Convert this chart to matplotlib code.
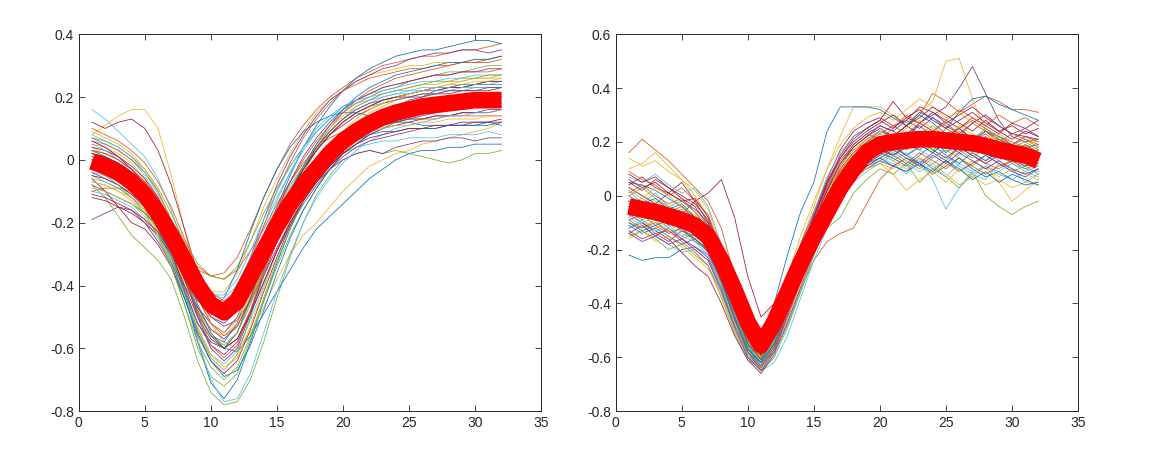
import numpy as np
import matplotlib
matplotlib.use("Agg")
import matplotlib.pyplot as plt

# sample index 1..32 for every waveform
samples = list(range(1, 33))

# ---- left panel: individual waveforms ----
left_waves = [
    [0.02, 0.01, -0.01, -0.04, -0.09, -0.17, -0.28, -0.42, -0.58, -0.71, -0.76, -0.70, -0.58, -0.45, -0.33, -0.22, -0.13, -0.06, 0.00, 0.05, 0.09, 0.12, 0.15, 0.17, 0.19, 0.20, 0.22, 0.23, 0.23, 0.24, 0.25, 0.25],
    [0.06, 0.04, 0.01, -0.03, -0.08, -0.15, -0.23, -0.30, -0.35, -0.37, -0.36, -0.31, -0.22, -0.12, -0.03, 0.05, 0.11, 0.16, 0.20, 0.23, 0.26, 0.28, 0.30, 0.31, 0.32, 0.33, 0.33, 0.34, 0.35, 0.35, 0.36, 0.37],
    [0.08, 0.11, 0.14, 0.16, 0.16, 0.10, -0.05, -0.22, -0.40, -0.52, -0.58, -0.60, -0.55, -0.47, -0.38, -0.30, -0.24, -0.20, -0.15, -0.10, -0.06, -0.02, 0.00, 0.02, 0.03, 0.05, 0.06, 0.07, 0.08, 0.09, 0.10, 0.12],
    [-0.19, -0.17, -0.15, -0.16, -0.20, -0.26, -0.33, -0.40, -0.47, -0.52, -0.55, -0.50, -0.40, -0.30, -0.20, -0.12, -0.05, 0.00, 0.04, 0.07, 0.09, 0.10, 0.11, 0.12, 0.13, 0.13, 0.14, 0.14, 0.15, 0.15, 0.16, 0.16],
    [-0.08, -0.12, -0.18, -0.24, -0.28, -0.32, -0.38, -0.50, -0.64, -0.74, -0.78, -0.77, -0.70, -0.58, -0.44, -0.31, -0.20, -0.11, -0.05, 0.00, 0.02, 0.03, 0.02, 0.03, 0.02, 0.01, 0.00, -0.01, 0.00, 0.02, 0.02, 0.03],
    [0.16, 0.13, 0.09, 0.05, 0.01, -0.06, -0.16, -0.28, -0.38, -0.44, -0.46, -0.43, -0.35, -0.26, -0.17, -0.09, -0.02, 0.04, 0.09, 0.13, 0.16, 0.18, 0.20, 0.21, 0.22, 0.22, 0.23, 0.23, 0.24, 0.24, 0.24, 0.25],
    [0.12, 0.10, 0.12, 0.13, 0.10, 0.03, -0.08, -0.22, -0.36, -0.46, -0.50, -0.47, -0.38, -0.28, -0.18, -0.10, -0.03, 0.03, 0.08, 0.12, 0.15, 0.17, 0.19, 0.20, 0.21, 0.22, 0.22, 0.23, 0.23, 0.24, 0.24, 0.24],
    [-0.02, -0.04, -0.07, -0.10, -0.14, -0.19, -0.26, -0.35, -0.46, -0.55, -0.60, -0.61, -0.56, -0.49, -0.42, -0.35, -0.28, -0.22, -0.18, -0.14, -0.10, -0.06, -0.03, 0.00, 0.02, 0.03, 0.03, 0.04, 0.04, 0.05, 0.05, 0.05],
    [0.00, -0.02, -0.04, -0.07, -0.11, -0.17, -0.24, -0.33, -0.41, -0.47, -0.50, -0.46, -0.37, -0.28, -0.19, -0.12, -0.06, -0.01, 0.04, 0.08, 0.11, 0.13, 0.15, 0.16, 0.17, 0.18, 0.18, 0.19, 0.19, 0.20, 0.20, 0.21],
    [0.04, 0.02, 0.00, -0.03, -0.07, -0.13, -0.21, -0.30, -0.38, -0.42, -0.42, -0.36, -0.26, -0.15, -0.06, 0.02, 0.09, 0.15, 0.19, 0.22, 0.25, 0.27, 0.28, 0.29, 0.30, 0.30, 0.31, 0.31, 0.31, 0.32, 0.32, 0.33],
    [0.01, 0.00, -0.02, -0.05, -0.09, -0.15, -0.24, -0.34, -0.43, -0.48, -0.48, -0.42, -0.31, -0.19, -0.08, 0.01, 0.08, 0.14, 0.19, 0.22, 0.25, 0.27, 0.29, 0.30, 0.32, 0.33, 0.34, 0.34, 0.35, 0.35, 0.34, 0.35],
    [-0.05, -0.07, -0.09, -0.12, -0.16, -0.23, -0.33, -0.46, -0.60, -0.69, -0.72, -0.68, -0.57, -0.45, -0.34, -0.24, -0.16, -0.09, -0.03, 0.02, 0.06, 0.09, 0.11, 0.13, 0.14, 0.15, 0.16, 0.16, 0.17, 0.17, 0.18, 0.18],
    [-0.10, -0.11, -0.13, -0.15, -0.19, -0.25, -0.33, -0.43, -0.54, -0.62, -0.65, -0.61, -0.51, -0.40, -0.29, -0.20, -0.12, -0.06, -0.01, 0.02, 0.04, 0.05, 0.06, 0.06, 0.07, 0.07, 0.07, 0.08, 0.08, 0.08, 0.09, 0.08],
    [-0.06, -0.10, -0.15, -0.20, -0.22, -0.27, -0.34, -0.44, -0.55, -0.64, -0.68, -0.64, -0.54, -0.42, -0.31, -0.21, -0.13, -0.07, -0.02, 0.02, 0.05, 0.08, 0.10, 0.11, 0.12, 0.13, 0.14, 0.14, 0.15, 0.15, 0.15, 0.16],
    [0.03, 0.01, -0.02, -0.05, -0.10, -0.17, -0.27, -0.38, -0.49, -0.56, -0.58, -0.52, -0.40, -0.27, -0.15, -0.05, 0.04, 0.11, 0.17, 0.22, 0.26, 0.29, 0.31, 0.33, 0.34, 0.35, 0.35, 0.36, 0.37, 0.38, 0.38, 0.37],
    [-0.10, -0.09, -0.09, -0.10, -0.13, -0.17, -0.23, -0.29, -0.34, -0.37, -0.38, -0.35, -0.29, -0.22, -0.14, -0.07, -0.01, 0.04, 0.07, 0.09, 0.10, 0.11, 0.12, 0.12, 0.13, 0.13, 0.13, 0.14, 0.14, 0.14, 0.14, 0.14],
    [0.05, 0.04, 0.02, -0.01, -0.06, -0.14, -0.26, -0.40, -0.53, -0.62, -0.66, -0.63, -0.53, -0.41, -0.29, -0.19, -0.10, -0.03, 0.03, 0.08, 0.12, 0.15, 0.17, 0.19, 0.21, 0.22, 0.23, 0.24, 0.25, 0.26, 0.26, 0.27],
    [-0.03, -0.04, -0.06, -0.09, -0.13, -0.18, -0.25, -0.34, -0.43, -0.50, -0.53, -0.51, -0.45, -0.37, -0.28, -0.20, -0.13, -0.07, -0.03, 0.00, 0.02, 0.03, 0.02, 0.04, 0.05, 0.06, 0.06, 0.07, 0.07, 0.06, 0.07, 0.07],
    [0.07, 0.06, 0.04, 0.01, -0.03, -0.09, -0.17, -0.26, -0.33, -0.37, -0.38, -0.34, -0.26, -0.17, -0.09, -0.02, 0.04, 0.09, 0.13, 0.17, 0.19, 0.21, 0.23, 0.24, 0.25, 0.26, 0.27, 0.28, 0.28, 0.29, 0.30, 0.30],
    [-0.04, -0.05, -0.07, -0.09, -0.13, -0.19, -0.29, -0.42, -0.57, -0.70, -0.77, -0.76, -0.68, -0.55, -0.42, -0.30, -0.20, -0.12, -0.06, -0.01, 0.03, 0.06, 0.08, 0.10, 0.11, 0.12, 0.13, 0.14, 0.14, 0.15, 0.15, 0.16],
    [-0.12, -0.13, -0.15, -0.17, -0.20, -0.24, -0.30, -0.37, -0.44, -0.49, -0.51, -0.47, -0.38, -0.28, -0.18, -0.10, -0.03, 0.03, 0.08, 0.11, 0.14, 0.16, 0.18, 0.19, 0.20, 0.20, 0.21, 0.21, 0.22, 0.22, 0.22, 0.23],
    [0.00, -0.01, -0.03, -0.06, -0.11, -0.18, -0.28, -0.38, -0.45, -0.47, -0.44, -0.35, -0.23, -0.12, -0.03, 0.04, 0.09, 0.12, 0.14, 0.15, 0.15, 0.14, 0.13, 0.12, 0.12, 0.11, 0.11, 0.11, 0.11, 0.11, 0.12, 0.11],
    [0.10, 0.08, 0.06, 0.03, -0.01, -0.07, -0.15, -0.25, -0.35, -0.42, -0.45, -0.41, -0.33, -0.24, -0.15, -0.07, 0.00, 0.06, 0.11, 0.15, 0.18, 0.20, 0.22, 0.23, 0.25, 0.26, 0.27, 0.27, 0.28, 0.28, 0.28, 0.29],
    [-0.07, -0.08, -0.10, -0.13, -0.17, -0.22, -0.30, -0.39, -0.48, -0.54, -0.56, -0.52, -0.43, -0.33, -0.23, -0.15, -0.08, -0.02, 0.03, 0.07, 0.10, 0.12, 0.14, 0.15, 0.16, 0.17, 0.17, 0.18, 0.18, 0.18, 0.18, 0.18],
    [0.02, 0.00, -0.03, -0.07, -0.12, -0.19, -0.29, -0.41, -0.52, -0.59, -0.62, -0.58, -0.49, -0.39, -0.29, -0.21, -0.14, -0.08, -0.03, 0.01, 0.04, 0.06, 0.07, 0.08, 0.09, 0.10, 0.10, 0.11, 0.11, 0.12, 0.12, 0.12],
    [-0.02, -0.03, -0.05, -0.08, -0.12, -0.18, -0.26, -0.35, -0.43, -0.48, -0.49, -0.44, -0.35, -0.25, -0.16, -0.08, -0.02, 0.03, 0.08, 0.12, 0.15, 0.17, 0.18, 0.19, 0.20, 0.21, 0.21, 0.22, 0.22, 0.23, 0.23, 0.23],
    [0.06, 0.05, 0.03, 0.00, -0.05, -0.12, -0.21, -0.31, -0.39, -0.43, -0.44, -0.40, -0.31, -0.21, -0.12, -0.04, 0.03, 0.09, 0.13, 0.17, 0.19, 0.21, 0.22, 0.23, 0.24, 0.25, 0.25, 0.26, 0.26, 0.27, 0.27, 0.27],
    [-0.05, -0.06, -0.08, -0.11, -0.15, -0.21, -0.30, -0.40, -0.50, -0.57, -0.60, -0.57, -0.48, -0.37, -0.26, -0.17, -0.09, -0.03, 0.02, 0.06, 0.09, 0.11, 0.13, 0.14, 0.15, 0.16, 0.17, 0.17, 0.18, 0.19, 0.19, 0.20],
    [-0.08, -0.10, -0.12, -0.14, -0.17, -0.21, -0.27, -0.34, -0.41, -0.45, -0.46, -0.43, -0.36, -0.28, -0.20, -0.13, -0.07, -0.02, 0.02, 0.05, 0.06, 0.08, 0.09, 0.09, 0.10, 0.10, 0.10, 0.11, 0.11, 0.11, 0.11, 0.12],
    [0.03, 0.02, 0.00, -0.03, -0.07, -0.14, -0.24, -0.36, -0.49, -0.59, -0.63, -0.59, -0.48, -0.35, -0.22, -0.12, -0.03, 0.04, 0.10, 0.15, 0.19, 0.22, 0.24, 0.26, 0.27, 0.28, 0.29, 0.30, 0.31, 0.31, 0.32, 0.33],
    [0.09, 0.07, 0.05, 0.02, -0.03, -0.10, -0.20, -0.32, -0.44, -0.52, -0.55, -0.51, -0.41, -0.30, -0.19, -0.10, -0.02, 0.05, 0.10, 0.14, 0.17, 0.19, 0.21, 0.22, 0.23, 0.24, 0.24, 0.25, 0.25, 0.26, 0.26, 0.26],
    [-0.04, -0.06, -0.08, -0.11, -0.14, -0.19, -0.27, -0.37, -0.47, -0.54, -0.57, -0.53, -0.44, -0.34, -0.24, -0.16, -0.09, -0.04, 0.01, 0.05, 0.08, 0.10, 0.12, 0.13, 0.14, 0.15, 0.15, 0.16, 0.16, 0.17, 0.17, 0.17],
    [0.01, -0.01, -0.04, -0.08, -0.13, -0.20, -0.30, -0.42, -0.54, -0.63, -0.67, -0.62, -0.50, -0.37, -0.24, -0.13, -0.04, 0.03, 0.09, 0.13, 0.17, 0.19, 0.21, 0.22, 0.23, 0.24, 0.25, 0.25, 0.26, 0.26, 0.27, 0.27],
    [-0.06, -0.07, -0.09, -0.12, -0.15, -0.20, -0.27, -0.35, -0.42, -0.46, -0.47, -0.44, -0.37, -0.28, -0.19, -0.11, -0.05, 0.00, 0.05, 0.09, 0.12, 0.14, 0.16, 0.17, 0.18, 0.19, 0.19, 0.20, 0.20, 0.21, 0.21, 0.21],
    [0.04, 0.03, 0.01, -0.02, -0.06, -0.12, -0.20, -0.30, -0.40, -0.47, -0.50, -0.47, -0.39, -0.29, -0.19, -0.10, -0.03, 0.03, 0.08, 0.12, 0.15, 0.17, 0.19, 0.20, 0.21, 0.22, 0.23, 0.23, 0.24, 0.24, 0.25, 0.25],
    [-0.01, -0.03, -0.06, -0.10, -0.15, -0.22, -0.32, -0.44, -0.56, -0.64, -0.69, -0.67, -0.59, -0.48, -0.36, -0.25, -0.16, -0.09, -0.03, 0.02, 0.05, 0.08, 0.10, 0.12, 0.13, 0.14, 0.15, 0.16, 0.16, 0.17, 0.17, 0.17],
    [0.07, 0.05, 0.03, 0.00, -0.04, -0.10, -0.19, -0.30, -0.40, -0.46, -0.47, -0.42, -0.32, -0.21, -0.10, -0.01, 0.07, 0.13, 0.18, 0.22, 0.24, 0.26, 0.27, 0.28, 0.29, 0.29, 0.30, 0.30, 0.31, 0.31, 0.31, 0.32],
    [-0.09, -0.10, -0.12, -0.14, -0.18, -0.24, -0.32, -0.42, -0.52, -0.58, -0.60, -0.55, -0.45, -0.33, -0.22, -0.13, -0.06, -0.01, 0.03, 0.06, 0.08, 0.09, 0.10, 0.11, 0.11, 0.12, 0.12, 0.13, 0.13, 0.13, 0.14, 0.14],
    [0.02, 0.01, -0.01, -0.04, -0.09, -0.16, -0.25, -0.35, -0.44, -0.50, -0.52, -0.48, -0.38, -0.27, -0.16, -0.07, 0.01, 0.07, 0.12, 0.16, 0.19, 0.21, 0.23, 0.24, 0.25, 0.26, 0.27, 0.27, 0.28, 0.28, 0.29, 0.29],
    [-0.03, -0.05, -0.08, -0.12, -0.17, -0.24, -0.34, -0.46, -0.58, -0.66, -0.70, -0.66, -0.56, -0.44, -0.32, -0.22, -0.13, -0.06, 0.00, 0.04, 0.08, 0.10, 0.12, 0.14, 0.15, 0.16, 0.17, 0.18, 0.18, 0.19, 0.19, 0.20],
    [0.05, 0.03, 0.00, -0.04, -0.09, -0.15, -0.23, -0.32, -0.39, -0.43, -0.43, -0.38, -0.29, -0.19, -0.10, -0.02, 0.04, 0.09, 0.13, 0.16, 0.18, 0.19, 0.20, 0.21, 0.21, 0.22, 0.22, 0.22, 0.23, 0.23, 0.23, 0.23],
    [-0.11, -0.12, -0.14, -0.16, -0.19, -0.23, -0.29, -0.38, -0.48, -0.56, -0.60, -0.57, -0.49, -0.39, -0.29, -0.20, -0.13, -0.07, -0.02, 0.02, 0.05, 0.07, 0.08, 0.09, 0.10, 0.10, 0.11, 0.11, 0.12, 0.12, 0.12, 0.13],
    [0.00, -0.02, -0.05, -0.09, -0.14, -0.21, -0.31, -0.42, -0.52, -0.58, -0.60, -0.55, -0.44, -0.32, -0.20, -0.10, -0.02, 0.05, 0.11, 0.16, 0.20, 0.23, 0.25, 0.27, 0.28, 0.29, 0.30, 0.31, 0.31, 0.32, 0.32, 0.33],
    [0.03, 0.02, 0.00, -0.03, -0.07, -0.13, -0.22, -0.33, -0.44, -0.52, -0.56, -0.53, -0.45, -0.35, -0.25, -0.16, -0.08, -0.02, 0.03, 0.07, 0.10, 0.12, 0.14, 0.15, 0.16, 0.16, 0.17, 0.17, 0.18, 0.18, 0.18, 0.19],
    [-0.07, -0.08, -0.10, -0.12, -0.16, -0.21, -0.28, -0.36, -0.43, -0.48, -0.50, -0.47, -0.39, -0.30, -0.21, -0.13, -0.06, 0.00, 0.05, 0.09, 0.13, 0.16, 0.18, 0.20, 0.21, 0.22, 0.23, 0.24, 0.24, 0.25, 0.25, 0.26],
    [0.06, 0.04, 0.01, -0.03, -0.08, -0.15, -0.25, -0.37, -0.50, -0.60, -0.64, -0.60, -0.49, -0.36, -0.23, -0.12, -0.03, 0.04, 0.09, 0.13, 0.16, 0.18, 0.19, 0.20, 0.20, 0.21, 0.21, 0.22, 0.22, 0.22, 0.23, 0.23],
    [-0.01, -0.02, -0.04, -0.07, -0.11, -0.17, -0.26, -0.37, -0.48, -0.56, -0.59, -0.55, -0.46, -0.35, -0.24, -0.15, -0.07, -0.01, 0.04, 0.08, 0.11, 0.13, 0.14, 0.15, 0.16, 0.17, 0.17, 0.17, 0.18, 0.18, 0.18, 0.18],
    [0.08, 0.06, 0.04, 0.01, -0.04, -0.11, -0.21, -0.32, -0.42, -0.48, -0.50, -0.45, -0.35, -0.24, -0.13, -0.04, 0.04, 0.10, 0.14, 0.17, 0.19, 0.20, 0.21, 0.22, 0.22, 0.23, 0.23, 0.23, 0.24, 0.24, 0.24, 0.24],
]
left_mean = [-0.005, -0.02, -0.04, -0.07, -0.11, -0.17, -0.24, -0.32, -0.40, -0.46, -0.485, -0.45, -0.37, -0.29, -0.21, -0.14, -0.08, -0.03, 0.02, 0.06, 0.09, 0.115, 0.135, 0.15, 0.16, 0.17, 0.175, 0.18, 0.185, 0.19, 0.19, 0.19]

# ---- right panel ----
right_waves = [
    [-0.22, -0.24, -0.23, -0.23, -0.20, -0.19, -0.22, -0.32, -0.45, -0.57, -0.62, -0.52, -0.38, -0.24, -0.12, -0.02, 0.07, 0.12, 0.16, 0.18, 0.15, 0.19, 0.17, 0.21, 0.16, 0.20, 0.18, 0.22, 0.17, 0.15, 0.19, 0.16],
    [0.16, 0.21, 0.17, 0.13, 0.08, 0.03, -0.02, -0.12, -0.30, -0.48, -0.60, -0.50, -0.36, -0.22, -0.10, 0.02, 0.10, 0.16, 0.21, 0.24, 0.22, 0.26, 0.30, 0.38, 0.35, 0.31, 0.34, 0.37, 0.35, 0.32, 0.32, 0.31],
    [0.03, 0.00, -0.02, -0.05, -0.08, -0.10, -0.16, -0.28, -0.42, -0.54, -0.60, -0.48, -0.33, -0.18, -0.04, 0.10, 0.22, 0.33, 0.33, 0.33, 0.30, 0.27, 0.31, 0.35, 0.50, 0.51, 0.36, 0.24, 0.20, 0.18, 0.16, 0.15],
    [-0.06, -0.08, -0.04, -0.09, -0.12, -0.10, -0.18, -0.30, -0.44, -0.55, -0.61, -0.49, -0.35, -0.21, -0.09, 0.02, 0.11, 0.18, 0.22, 0.26, 0.24, 0.21, 0.27, 0.30, 0.33, 0.40, 0.48, 0.38, 0.28, 0.22, 0.20, 0.21],
    [-0.10, -0.12, -0.09, -0.14, -0.12, -0.16, -0.20, -0.33, -0.46, -0.58, -0.63, -0.55, -0.40, -0.27, -0.18, -0.12, -0.08, 0.01, 0.06, 0.10, 0.08, 0.12, 0.05, 0.10, 0.07, 0.03, 0.09, 0.00, -0.04, -0.07, -0.04, -0.02],
    [0.02, -0.03, 0.01, -0.04, -0.06, -0.09, -0.15, -0.27, -0.41, -0.55, -0.64, -0.53, -0.39, -0.26, -0.14, -0.04, 0.06, 0.12, 0.15, 0.18, 0.13, 0.16, 0.12, 0.06, -0.05, 0.03, 0.08, 0.06, 0.12, 0.10, 0.05, 0.08],
    [-0.02, -0.05, -0.08, -0.10, -0.07, -0.02, 0.01, 0.06, -0.08, -0.30, -0.45, -0.40, -0.30, -0.18, -0.06, 0.06, 0.17, 0.24, 0.27, 0.29, 0.26, 0.28, 0.33, 0.31, 0.27, 0.30, 0.33, 0.29, 0.26, 0.23, 0.22, 0.21],
    [0.05, 0.04, 0.02, -0.01, -0.04, -0.08, -0.14, -0.25, -0.38, -0.49, -0.54, -0.40, -0.22, -0.06, 0.05, 0.24, 0.33, 0.33, 0.33, 0.32, 0.29, 0.26, 0.30, 0.27, 0.23, 0.25, 0.21, 0.24, 0.22, 0.20, 0.18, 0.19],
    [-0.12, -0.10, -0.14, -0.13, -0.17, -0.21, -0.26, -0.36, -0.48, -0.58, -0.63, -0.58, -0.48, -0.35, -0.24, -0.17, -0.14, -0.12, -0.03, 0.06, 0.11, 0.09, 0.14, 0.10, 0.13, 0.18, 0.15, 0.12, 0.10, 0.13, 0.11, 0.14],
    [0.10, 0.12, 0.16, 0.11, 0.06, 0.00, -0.08, -0.22, -0.38, -0.52, -0.58, -0.47, -0.33, -0.20, -0.09, 0.00, 0.07, 0.11, 0.10, 0.12, 0.08, 0.02, 0.06, 0.09, 0.05, 0.10, 0.07, 0.04, 0.06, 0.03, 0.05, 0.04],
    [-0.13, -0.16, -0.14, -0.17, -0.13, -0.15, -0.19, -0.30, -0.45, -0.57, -0.62, -0.55, -0.42, -0.28, -0.16, -0.06, 0.02, 0.08, 0.13, 0.16, 0.19, 0.15, 0.18, 0.22, 0.19, 0.16, 0.20, 0.17, 0.14, 0.18, 0.15, 0.17],
    [-0.05, -0.02, -0.06, -0.10, -0.08, -0.12, -0.18, -0.31, -0.46, -0.58, -0.65, -0.60, -0.49, -0.36, -0.22, -0.10, 0.02, 0.10, 0.15, 0.20, 0.18, 0.22, 0.19, 0.16, 0.20, 0.23, 0.20, 0.17, 0.22, 0.19, 0.16, 0.18],
    [-0.08, -0.11, -0.15, -0.18, -0.21, -0.20, -0.24, -0.36, -0.50, -0.60, -0.65, -0.62, -0.52, -0.38, -0.24, -0.12, -0.02, 0.06, 0.11, 0.14, 0.12, 0.08, 0.13, 0.11, 0.07, 0.12, 0.09, 0.11, 0.08, 0.06, 0.09, 0.07],
    [0.04, 0.07, 0.03, 0.01, 0.05, -0.02, -0.10, -0.24, -0.40, -0.53, -0.59, -0.51, -0.37, -0.22, -0.08, 0.05, 0.15, 0.22, 0.25, 0.28, 0.35, 0.29, 0.27, 0.31, 0.28, 0.25, 0.29, 0.26, 0.23, 0.27, 0.25, 0.28],
    [-0.04, -0.07, -0.05, -0.09, -0.11, -0.13, -0.17, -0.29, -0.43, -0.56, -0.62, -0.52, -0.39, -0.25, -0.12, -0.01, 0.08, 0.15, 0.20, 0.24, 0.22, 0.26, 0.31, 0.29, 0.25, 0.31, 0.36, 0.37, 0.34, 0.32, 0.30, 0.28],
    [0.09, 0.06, 0.04, 0.00, 0.03, -0.02, -0.07, -0.20, -0.36, -0.50, -0.57, -0.48, -0.35, -0.21, -0.08, 0.04, 0.13, 0.19, 0.23, 0.21, 0.25, 0.30, 0.27, 0.24, 0.28, 0.32, 0.29, 0.26, 0.30, 0.27, 0.29, 0.26],
    [-0.06, -0.09, -0.12, -0.10, -0.14, -0.16, -0.21, -0.33, -0.47, -0.58, -0.63, -0.57, -0.45, -0.31, -0.18, -0.07, 0.03, 0.09, 0.12, 0.15, 0.13, 0.10, 0.14, 0.12, 0.08, 0.04, 0.07, 0.11, 0.05, -0.02, 0.02, 0.06],
    [-0.02, -0.04, -0.07, -0.05, -0.09, -0.11, -0.15, -0.26, -0.41, -0.54, -0.60, -0.50, -0.36, -0.22, -0.10, 0.00, 0.09, 0.15, 0.19, 0.22, 0.20, 0.23, 0.26, 0.22, 0.19, 0.23, 0.20, 0.24, 0.21, 0.19, 0.22, 0.20],
    [-0.15, -0.13, -0.16, -0.20, -0.18, -0.22, -0.26, -0.38, -0.51, -0.61, -0.64, -0.54, -0.41, -0.29, -0.17, -0.07, 0.01, 0.07, 0.11, 0.13, 0.16, 0.13, 0.10, 0.14, 0.17, 0.14, 0.11, 0.15, 0.12, 0.09, 0.11, 0.08],
    [0.07, 0.05, 0.08, 0.04, 0.01, 0.03, -0.04, -0.18, -0.35, -0.50, -0.58, -0.49, -0.34, -0.19, -0.06, 0.07, 0.16, 0.22, 0.25, 0.23, 0.20, 0.24, 0.21, 0.18, 0.22, 0.19, 0.16, 0.13, 0.16, 0.12, 0.10, 0.09],
    [-0.07, -0.10, -0.13, -0.16, -0.21, -0.26, -0.30, -0.40, -0.52, -0.61, -0.66, -0.59, -0.47, -0.34, -0.21, -0.09, 0.01, 0.08, 0.13, 0.17, 0.15, 0.18, 0.21, 0.17, 0.14, 0.18, 0.15, 0.12, 0.15, 0.17, 0.14, 0.15],
    [0.00, -0.03, -0.01, -0.05, -0.03, -0.08, -0.12, -0.24, -0.39, -0.53, -0.60, -0.53, -0.41, -0.29, -0.17, -0.07, 0.02, 0.08, 0.12, 0.14, 0.11, 0.09, 0.12, 0.08, 0.11, 0.14, 0.10, 0.07, 0.09, 0.06, 0.04, 0.05],
    [-0.09, -0.12, -0.10, -0.13, -0.16, -0.14, -0.19, -0.31, -0.45, -0.57, -0.63, -0.55, -0.42, -0.29, -0.16, -0.05, 0.05, 0.12, 0.16, 0.19, 0.17, 0.21, 0.24, 0.20, 0.25, 0.22, 0.27, 0.24, 0.20, 0.23, 0.21, 0.19],
    [0.14, 0.11, 0.13, 0.09, 0.06, 0.02, -0.05, -0.19, -0.35, -0.49, -0.56, -0.45, -0.30, -0.15, -0.02, 0.10, 0.19, 0.25, 0.29, 0.31, 0.28, 0.32, 0.36, 0.33, 0.29, 0.31, 0.27, 0.30, 0.26, 0.23, 0.21, 0.20],
    [-0.14, -0.17, -0.15, -0.12, -0.16, -0.19, -0.23, -0.34, -0.48, -0.59, -0.64, -0.57, -0.44, -0.31, -0.19, -0.08, 0.01, 0.07, 0.10, 0.13, 0.11, 0.14, 0.12, 0.16, 0.13, 0.09, 0.12, 0.15, 0.12, 0.09, 0.07, 0.10],
    [-0.03, -0.01, -0.04, -0.07, -0.05, -0.10, -0.14, -0.27, -0.42, -0.55, -0.61, -0.51, -0.37, -0.23, -0.10, 0.01, 0.11, 0.17, 0.21, 0.18, 0.22, 0.19, 0.23, 0.26, 0.22, 0.18, 0.21, 0.25, 0.21, 0.18, 0.15, 0.17],
    [-0.08, -0.05, -0.09, -0.07, -0.11, -0.14, -0.18, -0.29, -0.44, -0.56, -0.62, -0.53, -0.40, -0.26, -0.13, -0.02, 0.07, 0.14, 0.18, 0.21, 0.18, 0.15, 0.19, 0.22, 0.18, 0.15, 0.19, 0.16, 0.13, 0.16, 0.14, 0.12],
    [0.05, 0.02, 0.06, 0.03, -0.01, -0.04, -0.11, -0.23, -0.39, -0.52, -0.59, -0.50, -0.37, -0.23, -0.10, 0.02, 0.12, 0.18, 0.22, 0.25, 0.22, 0.26, 0.23, 0.19, 0.22, 0.25, 0.21, 0.18, 0.21, 0.17, 0.14, 0.16],
    [-0.11, -0.14, -0.12, -0.15, -0.18, -0.16, -0.21, -0.32, -0.46, -0.58, -0.63, -0.56, -0.43, -0.30, -0.17, -0.06, 0.03, 0.09, 0.13, 0.16, 0.14, 0.11, 0.15, 0.19, 0.15, 0.12, 0.16, 0.13, 0.17, 0.14, 0.11, 0.13],
    [0.01, 0.04, 0.00, -0.03, -0.01, -0.06, -0.13, -0.26, -0.42, -0.55, -0.61, -0.52, -0.38, -0.24, -0.11, 0.00, 0.10, 0.16, 0.20, 0.23, 0.26, 0.23, 0.27, 0.24, 0.21, 0.25, 0.28, 0.25, 0.22, 0.19, 0.21, 0.18],
    [-0.16, -0.13, -0.17, -0.15, -0.19, -0.23, -0.27, -0.37, -0.50, -0.60, -0.64, -0.58, -0.46, -0.33, -0.21, -0.10, -0.01, 0.06, 0.10, 0.12, 0.10, 0.14, 0.11, 0.08, 0.12, 0.09, 0.13, 0.10, 0.07, 0.10, 0.08, 0.06],
    [0.03, 0.00, -0.03, 0.01, -0.02, -0.05, -0.10, -0.22, -0.37, -0.51, -0.58, -0.49, -0.35, -0.21, -0.08, 0.03, 0.12, 0.19, 0.23, 0.26, 0.24, 0.28, 0.25, 0.29, 0.26, 0.23, 0.27, 0.30, 0.26, 0.23, 0.25, 0.22],
    [-0.06, -0.09, -0.07, -0.11, -0.09, -0.13, -0.17, -0.28, -0.43, -0.56, -0.62, -0.54, -0.41, -0.27, -0.14, -0.03, 0.06, 0.12, 0.16, 0.19, 0.22, 0.18, 0.21, 0.17, 0.20, 0.17, 0.14, 0.18, 0.15, 0.12, 0.14, 0.11],
    [-0.12, -0.09, -0.13, -0.11, -0.15, -0.17, -0.22, -0.34, -0.48, -0.59, -0.65, -0.59, -0.48, -0.35, -0.22, -0.11, -0.02, 0.05, 0.09, 0.12, 0.15, 0.12, 0.09, 0.12, 0.15, 0.11, 0.08, 0.11, 0.09, 0.12, 0.09, 0.11],
    [0.06, 0.03, 0.05, 0.01, -0.02, -0.01, -0.08, -0.21, -0.37, -0.51, -0.58, -0.48, -0.34, -0.20, -0.07, 0.05, 0.14, 0.20, 0.24, 0.27, 0.30, 0.26, 0.29, 0.33, 0.30, 0.27, 0.24, 0.28, 0.24, 0.21, 0.24, 0.22],
    [-0.04, -0.06, -0.03, -0.07, -0.10, -0.08, -0.14, -0.26, -0.41, -0.55, -0.61, -0.52, -0.39, -0.25, -0.12, -0.01, 0.08, 0.14, 0.18, 0.16, 0.19, 0.22, 0.19, 0.16, 0.20, 0.17, 0.21, 0.18, 0.15, 0.18, 0.16, 0.14],
    [-0.09, -0.07, -0.11, -0.14, -0.12, -0.17, -0.20, -0.31, -0.46, -0.58, -0.64, -0.56, -0.43, -0.29, -0.16, -0.05, 0.04, 0.10, 0.14, 0.17, 0.15, 0.12, 0.16, 0.13, 0.10, 0.14, 0.11, 0.08, 0.11, 0.13, 0.10, 0.12],
    [0.02, -0.01, 0.03, 0.00, -0.04, -0.07, -0.12, -0.25, -0.40, -0.53, -0.60, -0.51, -0.37, -0.23, -0.10, 0.01, 0.11, 0.17, 0.21, 0.24, 0.21, 0.25, 0.28, 0.25, 0.22, 0.26, 0.23, 0.20, 0.23, 0.20, 0.18, 0.21],
    [-0.14, -0.11, -0.15, -0.18, -0.16, -0.20, -0.24, -0.35, -0.49, -0.60, -0.65, -0.58, -0.45, -0.32, -0.19, -0.08, 0.01, 0.07, 0.11, 0.14, 0.17, 0.14, 0.11, 0.15, 0.12, 0.16, 0.13, 0.10, 0.13, 0.10, 0.08, 0.10],
    [0.00, 0.03, -0.01, -0.04, -0.02, -0.06, -0.11, -0.24, -0.40, -0.54, -0.60, -0.51, -0.38, -0.24, -0.11, 0.00, 0.09, 0.15, 0.19, 0.22, 0.19, 0.23, 0.20, 0.17, 0.21, 0.24, 0.21, 0.18, 0.21, 0.18, 0.20, 0.17],
    [-0.07, -0.10, -0.08, -0.12, -0.15, -0.13, -0.18, -0.30, -0.45, -0.57, -0.63, -0.55, -0.42, -0.28, -0.15, -0.04, 0.05, 0.11, 0.15, 0.18, 0.16, 0.20, 0.17, 0.14, 0.18, 0.21, 0.18, 0.15, 0.19, 0.16, 0.13, 0.15],
    [0.08, 0.05, 0.07, 0.03, 0.00, -0.03, -0.09, -0.22, -0.38, -0.52, -0.59, -0.49, -0.35, -0.21, -0.08, 0.04, 0.14, 0.21, 0.25, 0.28, 0.25, 0.29, 0.32, 0.28, 0.25, 0.28, 0.31, 0.27, 0.24, 0.26, 0.23, 0.25],
    [-0.10, -0.13, -0.11, -0.09, -0.13, -0.16, -0.20, -0.31, -0.45, -0.57, -0.62, -0.55, -0.43, -0.30, -0.18, -0.07, 0.02, 0.08, 0.12, 0.15, 0.18, 0.15, 0.12, 0.09, 0.13, 0.10, 0.06, 0.09, 0.05, 0.08, 0.06, 0.04],
    [-0.02, -0.05, -0.03, -0.06, -0.04, -0.09, -0.13, -0.25, -0.40, -0.54, -0.61, -0.52, -0.38, -0.24, -0.11, 0.00, 0.09, 0.15, 0.19, 0.22, 0.20, 0.17, 0.21, 0.24, 0.27, 0.23, 0.20, 0.23, 0.19, 0.16, 0.19, 0.16],
]
right_mean = [-0.04, -0.05, -0.06, -0.075, -0.09, -0.11, -0.15, -0.24, -0.35, -0.47, -0.555, -0.47, -0.36, -0.25, -0.15, -0.06, 0.03, 0.10, 0.16, 0.19, 0.20, 0.205, 0.21, 0.21, 0.205, 0.20, 0.195, 0.185, 0.17, 0.16, 0.15, 0.13]

xtick_vals = [0, 5, 10, 15, 20, 25, 30, 35]
left_yticks = [-0.8, -0.6, -0.4, -0.2, 0, 0.2, 0.4]
left_ylabels = ['-0.8', '-0.6', '-0.4', '-0.2', '0', '0.2', '0.4']
right_yticks = [-0.8, -0.6, -0.4, -0.2, 0, 0.2, 0.4, 0.6]
right_ylabels = ['-0.8', '-0.6', '-0.4', '-0.2', '0', '0.2', '0.4', '0.6']

# matlab default line colours
matlab_colors = ['#0072BD', '#D95319', '#EDB120', '#7E2F8E', '#77AC30', '#4DBEEE', '#A2142F']

plt.rcParams['font.family'] = ['Liberation Sans', 'DejaVu Sans']
plt.rcParams['font.size'] = 10

fig = plt.figure(figsize=(11.53, 4.62), dpi=100)
ax1 = fig.add_axes([0.0683, 0.110, 0.401, 0.816])
ax2 = fig.add_axes([0.534, 0.110, 0.401, 0.816])


def draw_panel(ax, waves, mean, ylim, yticks, ylabels):
    for i, w in enumerate(waves):
        ax.plot(samples, w, color=matlab_colors[i % len(matlab_colors)], linewidth=0.55)
    ax.plot(samples, mean, color='red', linewidth=12, solid_capstyle='butt', solid_joinstyle='round')
    ax.set_xlim(0, 35)
    ax.set_ylim(*ylim)
    ax.set_xticks(xtick_vals)
    ax.set_xticklabels([str(v) for v in xtick_vals])
    ax.set_yticks(yticks)
    ax.set_yticklabels(ylabels)
    ax.tick_params(direction='in', length=4, width=0.6, colors='#262626',
                   top=True, right=True, labelsize=10)
    for sp in ax.spines.values():
        sp.set_color('#262626')
        sp.set_linewidth(0.7)


draw_panel(ax1, left_waves, left_mean, (-0.8, 0.4), left_yticks, left_ylabels)
draw_panel(ax2, right_waves, right_mean, (-0.8, 0.6), right_yticks, right_ylabels)

fig.savefig('out.png', dpi=100)
